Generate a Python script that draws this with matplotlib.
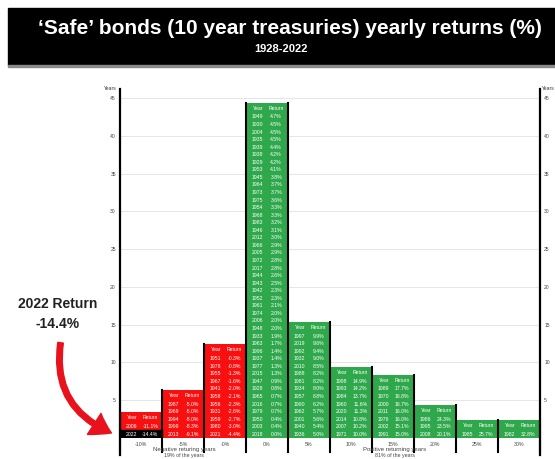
import matplotlib
matplotlib.use('Agg')
import matplotlib.pyplot as plt
from matplotlib.patches import Rectangle, FancyArrowPatch

plt.rcParams['font.family'] = ['Liberation Sans', 'DejaVu Sans']

W, H = 555, 459

# ---------------- data ----------------
tick_labels = ["-10%", "-5%", "-0%", "0%", "5%", "10%", "15%", "20%", "25%", "30%"]

yrs_b0 = [2009, 2022]
ret_b0 = [-11.1, -14.4]
yrs_b1 = [1987, 1969, 1994, 1999, 2013]
ret_b1 = [-5.0, -5.0, -8.0, -8.3, -9.1]
yrs_b2 = [1951, 1978, 1955, 1967, 1941, 1958, 1956, 1931, 1959, 1980, 2021]
ret_b2 = [-0.3, -0.8, -1.3, -1.6, -2.0, -2.1, -2.3, -2.6, -2.7, -3.0, -4.4]
yrs_b3 = [1949, 1930, 2004, 1935, 1939, 1938, 1929, 1953, 1945, 1964, 1973, 1975,
          1954, 1968, 1983, 1946, 2012, 1966, 2005, 1972, 2017, 1944, 1943, 1942,
          1952, 1961, 1974, 2006, 1948, 1933, 1963, 1996, 1937, 1977, 2015, 1947,
          1928, 1965, 2016, 1979, 1950, 2003, 2018]
ret_b3 = [4.7, 4.5, 4.5, 4.5, 4.4, 4.2, 4.2, 4.1, 3.8, 3.7, 3.7, 3.6,
          3.3, 3.3, 3.2, 3.1, 3.0, 2.9, 2.9, 2.8, 2.8, 2.6, 2.5, 2.3,
          2.3, 2.1, 2.0, 2.0, 2.0, 1.9, 1.7, 1.4, 1.4, 1.3, 1.3, 0.9,
          0.8, 0.7, 0.7, 0.7, 0.4, 0.4, 0.0]
yrs_b4 = [1997, 2019, 1992, 1932, 2010, 1988, 1981, 1934, 1957, 1990, 1962, 2001, 1940, 1936]
ret_b4 = [9.9, 9.6, 9.4, 9.0, 8.5, 8.2, 8.2, 8.0, 6.8, 6.2, 5.7, 5.6, 5.4, 5.0]
yrs_b5 = [1998, 1993, 1984, 1960, 2020, 2014, 2007, 1971]
ret_b5 = [14.9, 14.2, 13.7, 11.6, 11.3, 10.8, 10.2, 10.0]
yrs_b6 = [1989, 1970, 2000, 2011, 1976, 2002, 1991]
ret_b6 = [17.7, 16.8, 16.7, 16.0, 16.0, 15.1, 15.0]
yrs_b7 = [1986, 1995, 2008]
ret_b7 = [24.3, 23.5, 20.1]
yrs_b8 = [1985]
ret_b8 = [25.7]
yrs_b9 = [1982]
ret_b9 = [32.8]

highlight_year = 2022
y_ticks = [5, 10, 15, 20, 25, 30, 35, 40, 45]

bins_years = [yrs_b0, yrs_b1, yrs_b2, yrs_b3, yrs_b4, yrs_b5, yrs_b6, yrs_b7, yrs_b8, yrs_b9]
bins_rets = [ret_b0, ret_b1, ret_b2, ret_b3, ret_b4, ret_b5, ret_b6, ret_b7, ret_b8, ret_b9]

RED = '#f80f0f'
GREEN = '#2fa84c'

fig = plt.figure(figsize=(W / 100, H / 100), dpi=100)


def fx(x):
    return x / W


def fy(y):
    return 1 - y / H


# ---------------- title banner ----------------
fig.patches.append(Rectangle((fx(8), fy(65)), fx(W) - fx(8), fy(8) - fy(65),
                             transform=fig.transFigure, color='black', zorder=0))
fig.patches.append(Rectangle((fx(8), fy(67)), fx(W) - fx(8), fy(65) - fy(67),
                             transform=fig.transFigure, color='#8a8a8a', zorder=0))
fig.text(fx(290), fy(28), "\u2018Safe\u2019 bonds (10 year treasuries) yearly returns (%)",
         color='white', fontsize=15, fontweight='bold', ha='center', va='center')
fig.text(fx(281), fy(49), "1928-2022", color='white', fontsize=8,
         fontweight='bold', ha='center', va='center')

# ---------------- axes ----------------
ax = fig.add_axes([fx(120), fy(438), fx(540) - fx(120), fy(92) - fy(438)])
ax.set_xlim(0, 10)
ax.set_ylim(0, 45.8)
for s in ax.spines.values():
    s.set_visible(False)
for v in y_ticks:
    ax.axhline(v, color='#e2e2e2', lw=0.6, zorder=0)

ax.set_yticks(y_ticks)
ax.set_yticklabels([str(v) for v in y_ticks])
ax.tick_params(axis='y', length=0, labelsize=3.6, labelcolor='#444444',
               labelleft=True, labelright=True, pad=3)
ax.set_xticks([i + 0.5 for i in range(len(tick_labels))])
ax.set_xticklabels(tick_labels)
ax.tick_params(axis='x', length=0, labelsize=3.8, labelcolor='#444444', pad=3)

# side axis lines
for xv in (0, 10):
    ax.plot([xv, xv], [-2.2, 46.2], color='black', lw=1.6, clip_on=False, zorder=5)

fs = 3.7
for i, (yrs, rets) in enumerate(zip(bins_years, bins_rets)):
    n = len(yrs)
    h = n + 1.4
    col = RED if i < 3 else GREEN
    ax.bar(i + 0.5, h, width=1.0, color=col, linewidth=0, zorder=2)
    # separator lines
    edges = []
    if i < 3:
        edges.append(i)
    else:
        edges.append(i + 1)
    if i == 3:
        edges.append(i)
    for e in edges:
        ax.plot([e, e], [-1.9, h], color='black', lw=1.5, clip_on=False, zorder=4)
    ax.text(i + 0.28, n + 0.65, "Year", color='white', fontsize=fs, ha='center', va='center', zorder=6)
    ax.text(i + 0.72, n + 0.65, "Return", color='white', fontsize=fs, ha='center', va='center', zorder=6)
    for j, (y, r) in enumerate(zip(yrs, rets)):
        yc = n - j - 0.5
        if y == highlight_year:
            ax.add_patch(Rectangle((i, yc - 0.5), 1, 1, color='black', zorder=3))
        ax.text(i + 0.28, yc, str(y), color='white', fontsize=fs, ha='center', va='center', zorder=6)
        ax.text(i + 0.72, yc, f"{r:.1f}%", color='white', fontsize=fs, ha='center', va='center', zorder=6)

# "Years" labels
fig.text(fx(110), fy(88), "Years", fontsize=3.6, color='#333333', ha='center', va='center')
fig.text(fx(548), fy(88), "Years", fontsize=3.6, color='#333333', ha='center', va='center')

# bottom captions
fig.text(fx(184), fy(450), "Negative returing years", fontsize=4.3, color='#444444', ha='center', va='center')
fig.text(fx(184), fy(456), "19% of the years", fontsize=3.8, color='#444444', ha='center', va='center')
fig.text(fx(395), fy(450), "Positive returning years", fontsize=4.3, color='#444444', ha='center', va='center')
fig.text(fx(395), fy(456), "81% of the years", fontsize=3.8, color='#444444', ha='center', va='center')

# annotation
fig.text(fx(58), fy(304), "2022 Return", fontsize=10, fontweight='bold', color='#222222',
         ha='center', va='center')
fig.text(fx(58), fy(324), "-14.4%", fontsize=10, fontweight='bold', color='#222222',
         ha='center', va='center')
arrow = FancyArrowPatch((fx(61), fy(340)), (fx(114), fy(434)), transform=fig.transFigure,
                        connectionstyle='arc3,rad=0.4',
                        arrowstyle='simple,head_width=18,head_length=14,tail_width=4',
                        color='#e8121c', zorder=10)
fig.patches.append(arrow)

fig.savefig('out.png', dpi=100)
